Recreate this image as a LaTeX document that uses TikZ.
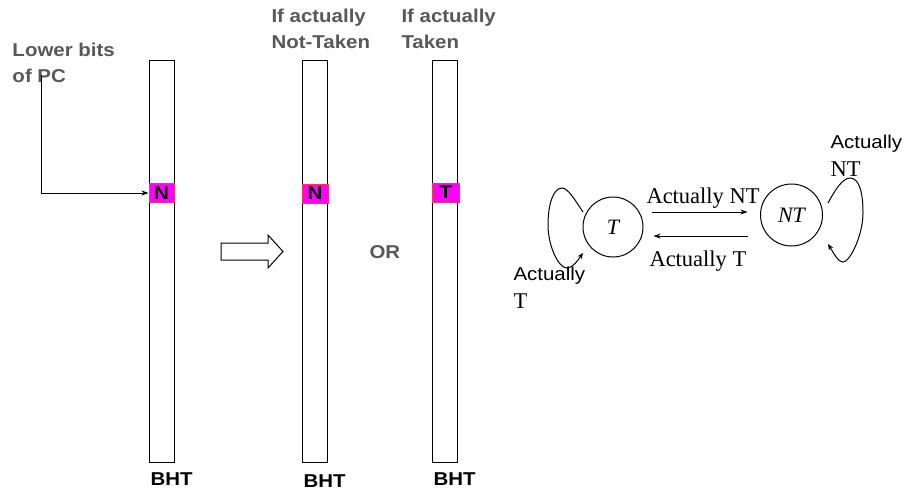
\documentclass[tikz,border=0pt]{standalone}
\usepackage{fontspec}
\setmainfont{Liberation Serif}
\newfontfamily\sansx[FakeStretch=1.1]{Liberation Sans}
\newfontfamily\serifx{Liberation Serif}
\usetikzlibrary{arrows.meta,calc}
\definecolor{txtgray}{RGB}{88,88,88}
\definecolor{cellpink}{RGB}{255,0,255}
\definecolor{cellred}{RGB}{255,50,90}
\begin{document}
\begin{tikzpicture}[x=1pt,y=-1pt,line width=1pt,
  >={Stealth[length=7pt,width=5pt]},
  barbox/.style={draw,line width=1pt,minimum width=25pt,minimum height=402pt,inner sep=0pt,anchor=north west},
  cell/.style={draw=cellred,fill=cellpink,line width=1pt,minimum width=25pt,minimum height=19pt,inner sep=0pt,font=\sansx\bfseries\fontsize{18.6}{22}\selectfont},
  graylbl/.style={text=txtgray,font=\sansx\bfseries\fontsize{18.6}{26}\selectfont,align=left,inner sep=0pt},
  bhtlbl/.style={text=black,font=\sansx\bfseries\fontsize{18.6}{22}\selectfont,inner sep=0pt,anchor=base west},
  state/.style={draw,circle,inner sep=0pt,line width=1pt,font=\serifx\itshape\fontsize{22}{26}\selectfont},
  serlbl/.style={inner sep=0pt,anchor=base west,font=\serifx\fontsize{22.5}{26}\selectfont},
  sanslbl/.style={inner sep=0pt,anchor=base west,font=\sansx\fontsize{18.6}{22}\selectfont},
  loopedge/.style={->,>={Stealth[length=6pt,width=5pt]}}]
\useasboundingbox (0,0) rectangle (907,491);

% BHT bars
\node[barbox] (bht1) at (149,60) {};
\node[barbox] (bht2) at (302,60) {};
\node[barbox] (bht3) at (432,60) {};

% cells
\node[cell] (c1) at (161.5,193) {N};
\node[cell,minimum width=26pt] (c2) at (315,193.5) {N};
\node[cell,minimum width=27pt] (c3) at (445.5,192.5) {T};

% labels
\node[graylbl,anchor=north west] (pclbl) at (12,43) {Lower bits\\of PC};
\node[graylbl,anchor=north west] (ntlbl) at (271,9) {If actually\\Not-Taken};
\node[graylbl,anchor=north west] (tlbl) at (401,9) {If actually\\Taken};
\node[graylbl,anchor=base west] (orlbl) at (369,258) {OR};
\node[bhtlbl] (b1) at (150,485) {BHT};
\node[bhtlbl] (b2) at (303,487) {BHT};
\node[bhtlbl] (b3) at (433,485) {BHT};

% PC arrow
\coordinate (pc) at (41,75);
\draw[->] (pc) |- (c1.west);

% hollow arrow
\draw[line width=1pt] (221,243) -- (268,243) -- (268,235) -- (283,251.5) -- (268,268) -- (268,260) -- (221,260) -- cycle;

% state machine
\node[state,minimum size=60pt] (T) at (613,227) {T};
\node[state,minimum size=62pt] (NT) at (791.5,215) {NT};

\draw[->] ([shift={(8,-15)}]T.east) -- ([shift={(-12.5,-3)}]NT.west);
\draw[->] ([shift={(-12.5,21)}]NT.west) -- ([shift={(10,9)}]T.east);

\draw[loopedge] ([shift={(-30,-15)}]T.center) .. controls (575,200) and (568,188) .. (562,188)
  .. controls (553,188) and (548,205) .. (548,225)
  .. controls (548,245) and (558,268) .. (567,268)
  .. controls (573,268) and (578,260) .. ([shift={(-30,26)}]T.center);

\draw[loopedge] ([shift={(36.5,-12)}]NT.center) .. controls (834,192) and (842,178) .. (850,178)
  .. controls (860,178) and (863,195) .. (863,213)
  .. controls (863,235) and (850,262) .. (843,262)
  .. controls (838,262) and (833,252) .. ([shift={(36.5,29)}]NT.center);

\node[serlbl] (lnt) at (646,203) {Actually NT};
\node[serlbl] (lt) at (649,266) {Actually T};
\node[sanslbl] (a1) at (513,280) {Actually};
\node[serlbl] (a1b) at (513,308) {T};
\node[sanslbl] (a2) at (830,148) {Actually};
\node[serlbl] (a2b) at (830,176) {NT};
\end{tikzpicture}
\end{document}
